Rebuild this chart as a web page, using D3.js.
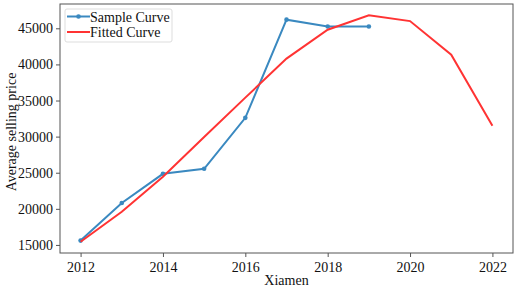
<!DOCTYPE html>
<html><head><meta charset="utf-8">
<script src="https://cdn.jsdelivr.net/npm/d3@7"></script>
<style>body{margin:0;background:#fff}svg{display:block}</style>
</head><body>
<script>
const sampleYears = [2012, 2013, 2014, 2015, 2016, 2017, 2018, 2019];
const sampleValues = [15600, 20800, 24850, 25550, 32600, 46200, 45250, 45250];
const fittedYears = [2012, 2013, 2014, 2015, 2016, 2017, 2018, 2019, 2020, 2021, 2022];
const fittedValues = [15450, 19600, 24450, 29950, 35400, 40800, 44800, 46800, 46000, 41350, 31500];
const xTicks = [2012, 2014, 2016, 2018, 2020, 2022];
const yTicks = [15000, 20000, 25000, 30000, 35000, 40000, 45000];
const seriesNames = ["Sample Curve", "Fitted Curve"];

const W = 518, H = 288;
const m = {left: 60, right: 5, top: 4, bottom: 35};
const FONT = "Liberation Serif";
const FS = 14;
const svg = d3.select("body").append("svg").attr("width", W).attr("height", H);

const x = d3.scaleLinear().domain([2011.5, 2022.5]).range([m.left, W - m.right]);
const y = d3.scaleLinear().domain([13883, 48367]).range([H - m.bottom, m.top]);

svg.append("rect").attr("x", m.left).attr("y", m.top)
  .attr("width", W - m.right - m.left).attr("height", H - m.bottom - m.top)
  .attr("fill", "none").attr("stroke", "#555").attr("stroke-width", 1);

const xa = svg.append("g").attr("transform", `translate(0,${H - m.bottom})`)
  .call(d3.axisBottom(x).tickValues(xTicks).tickFormat(d3.format("d")).tickSize(4).tickPadding(5));
const ya = svg.append("g").attr("transform", `translate(${m.left},0)`)
  .call(d3.axisLeft(y).tickValues(yTicks).tickFormat(d3.format("d")).tickSize(4).tickPadding(3));
[xa, ya].forEach(a => {
  a.attr("font-family", FONT).attr("font-size", FS);
  a.select(".domain").remove();
  a.selectAll("line").attr("stroke", "#555");
  a.selectAll("text").attr("fill", "#111");
});

svg.append("text").attr("x", (m.left + W - m.right) / 2).attr("y", 285)
  .attr("text-anchor", "middle").attr("font-family", FONT).attr("font-size", FS).attr("fill", "#111")
  .text("Xiamen");
svg.append("text").attr("transform", `translate(16,132) rotate(-90)`)
  .attr("text-anchor", "middle").attr("font-family", FONT).attr("font-size", FS).attr("fill", "#111")
  .text("Average selling price");

const line = d3.line().x(d => x(d[0])).y(d => y(d[1]));
const sample = sampleYears.map((d, i) => [d, sampleValues[i]]);
const fitted = fittedYears.map((d, i) => [d, fittedValues[i]]);

const blue = "#3a89c0", red = "#ff3333";
svg.append("path").datum(sample).attr("d", line).attr("fill", "none")
  .attr("stroke", blue).attr("stroke-width", 2);
svg.selectAll(".pt").data(sample).enter().append("circle")
  .attr("cx", d => x(d[0])).attr("cy", d => y(d[1])).attr("r", 2.3).attr("fill", blue);
svg.append("path").datum(fitted).attr("d", line).attr("fill", "none")
  .attr("stroke", red).attr("stroke-width", 2);

const lg = svg.append("g").attr("transform", "translate(65,9)");
lg.append("rect").attr("x", 0).attr("y", 0).attr("width", 107).attr("height", 33).attr("rx", 2)
  .attr("fill", "#fff").attr("stroke", "#ddd");
[[blue, true], [red, false]].forEach((s, i) => {
  const yy = 7.5 + i * 15.5;
  lg.append("line").attr("x1", 2).attr("x2", 25).attr("y1", yy).attr("y2", yy)
    .attr("stroke", s[0]).attr("stroke-width", 2);
  if (s[1]) lg.append("circle").attr("cx", 13.5).attr("cy", yy).attr("r", 2.3).attr("fill", s[0]);
  lg.append("text").attr("x", 25).attr("y", yy + 5).attr("font-family", FONT).attr("font-size", FS)
    .attr("fill", "#111").text(seriesNames[i]);
});
</script>
</body></html>
